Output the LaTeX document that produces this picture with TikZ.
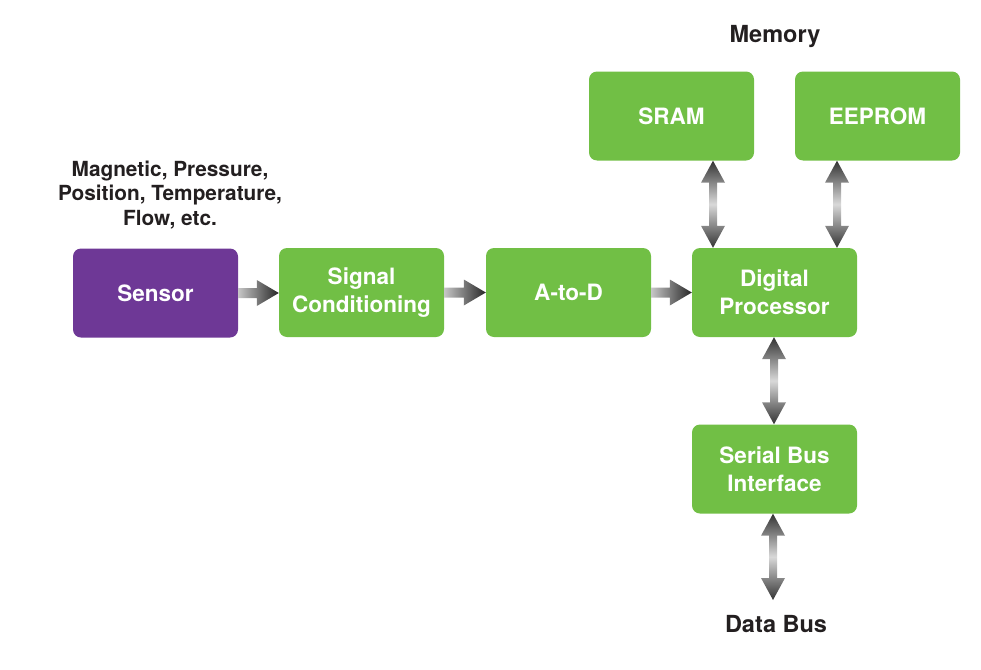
\documentclass[tikz,border=0pt]{standalone}
\usepackage{fontspec}
\setmainfont{TeX Gyre Heros}
\usepackage{tikz}
\usepackage{xcolor}
\usetikzlibrary{calc}

\definecolor{blockgreen}{HTML}{71BF45}
\definecolor{sensorpurple}{HTML}{6E3896}
\definecolor{labelblack}{HTML}{231F20}

% horizontal arrow, from the east side of #1 to the west side of #2
\newcommand{\hlink}[2]{%
  \path[left color=gray!45, right color=black!85]
    let \p1=(#1.east), \p2=(#2.west) in
    (\x1,\y1+5pt) -- (\x2-22pt,\y1+5pt) -- (\x2-22pt,\y1+13pt) -- (\x2,\y1)
    -- (\x2-22pt,\y1-13pt) -- (\x2-22pt,\y1-5pt) -- (\x1,\y1-5pt) -- cycle;}

% double vertical arrow at x=#1, from #2 down to #3
\newcommand{\vlink}[3]{%
  \path[top color=black!80, bottom color=black!80, middle color=gray!30]
    let \p1=(#2), \p2=(#3), \p3=(#1,0) in
    (\x3,\y1) -- (\x3-12pt,\y1-22pt) -- (\x3-4pt,\y1-22pt) -- (\x3-4pt,\y2+22pt)
    -- (\x3-12pt,\y2+22pt) -- (\x3,\y2) -- (\x3+12pt,\y2+22pt) -- (\x3+4pt,\y2+22pt)
    -- (\x3+4pt,\y1-22pt) -- (\x3+12pt,\y1-22pt) -- cycle;}

\begin{document}
\begin{tikzpicture}[x=1pt,y=-1pt,
  block/.style={rectangle, rounded corners=8pt, fill=blockgreen, text=white,
    minimum width=165pt, minimum height=89pt, inner sep=2pt, align=center,
    font=\fontsize{22.5}{28}\selectfont\bfseries},
  label/.style={text=labelblack, align=center,
    font=\fontsize{20.8}{24.5}\selectfont\bfseries},
  biglabel/.style={label, font=\fontsize{23.5}{28}\selectfont\bfseries}]
\useasboundingbox (0,0) rectangle (981,669);

% blocks
\node[block, fill=sensorpurple] (sensor) at (155.5,293) {Sensor};
\node[block] (signal) at (361.5,292.5) {Signal\\Conditioning};
\node[block] (atod) at (568.5,292.5) {A-to-D};
\node[block] (proc) at (774.5,292.5) {Digital\\Processor};
\node[block] (sram) at (671.5,116) {SRAM};
\node[block] (eeprom) at (877.5,116) {EEPROM};
\node[block] (serial) at (774.5,469) {Serial Bus\\Interface};

% labels
\node[biglabel] (memory) at (775,37) {Memory};
\node[label] (types) at (170,195) {Magnetic, Pressure,\\Position, Temperature,\\Flow, etc.};
\node[biglabel] (databus) at (776,624) {Data Bus};
\coordinate (busend) at (773,600);

% signal path
\hlink{sensor}{signal}
\hlink{signal}{atod}
\hlink{atod}{proc}

% memory and bus
\vlink{713}{sram.south}{proc.north}
\vlink{837}{eeprom.south}{proc.north}
\vlink{774}{proc.south}{serial.north}
\vlink{773}{serial.south}{busend}
\end{tikzpicture}
\end{document}
